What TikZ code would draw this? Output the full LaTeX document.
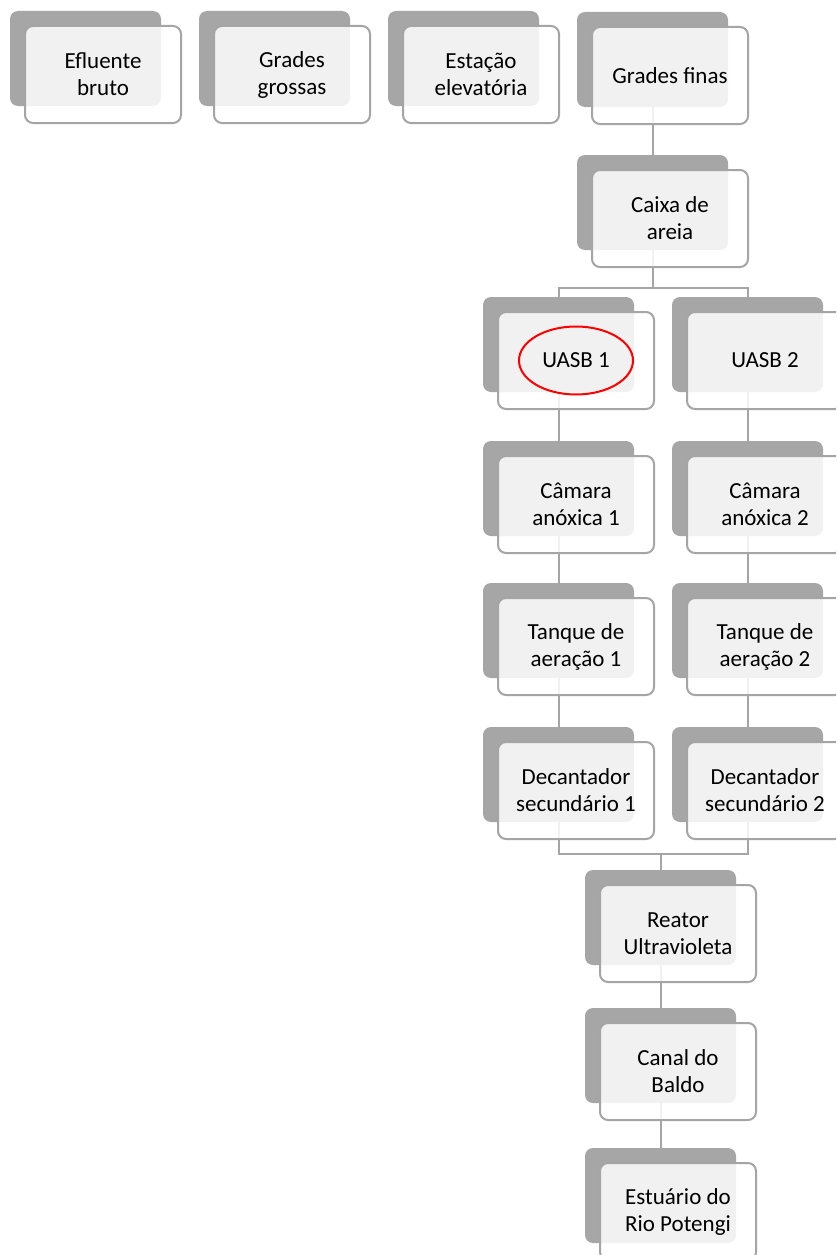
\documentclass[tikz,border=0pt]{standalone}
\usepackage{fontspec}
\setmainfont{Carlito}
\usetikzlibrary{shapes.geometric}
\definecolor{backgray}{HTML}{A6A6A6}
\definecolor{linegray}{HTML}{A5A5A5}
\begin{document}
\begin{tikzpicture}[x=1pt, y=-1pt,
  font=\fontsize{23}{27}\selectfont,
  back/.style={fill=backgray, rounded corners=8pt, anchor=north west,
    minimum width=151pt, minimum height=95pt, inner sep=0pt, outer sep=0pt},
  front/.style={draw=linegray, line width=2pt, fill=white, fill opacity=0.85,
    text opacity=1, rounded corners=8pt, anchor=north west, align=center,
    minimum width=156pt, minimum height=97pt, inner sep=0pt, outer sep=0pt},
  conn/.style={draw=linegray, line width=2pt}]
  %% page size of the reference
  \path[use as bounding box, fill=white] (0,0) rectangle (836,1255);
  \clip (0,0) rectangle (836,1255);
  %% dark back boxes
  % first row
  \node[back] (efl-b) at (10,11) {};
  \node[back] (ggr-b) at (199,11) {};
  \node[back] (est-b) at (388,11) {};
  \node[back] (gfi-b) at (577,12) {};
  % main line
  \node[back] (cai-b) at (577,155) {};
  \node[back] (ua1-b) at (483,297) {};
  \node[back] (ua2-b) at (672,297) {};
  \node[back] (cam1-b) at (483,441) {};
  \node[back] (cam2-b) at (672,441) {};
  \node[back] (tan1-b) at (483,583) {};
  \node[back] (tan2-b) at (672,583) {};
  \node[back] (dec1-b) at (483,727) {};
  \node[back] (dec2-b) at (672,727) {};
  \node[back] (rea-b) at (585,870) {};
  \node[back] (can-b) at (585,1008) {};
  \node[back] (rio-b) at (585,1148) {};
  %% connectors
  \draw[conn] (gfi-b.south) -- (cai-b.north);
  \draw[conn] (cai-b.south) -- ++(0,38) -| (ua1-b.north);
  \draw[conn] (cai-b.south) -- ++(0,38) -| (ua2-b.north);
  \draw[conn] (ua1-b.south) -- (cam1-b.north);
  \draw[conn] (ua2-b.south) -- (cam2-b.north);
  \draw[conn] (cam1-b.south) -- (tan1-b.north);
  \draw[conn] (cam2-b.south) -- (tan2-b.north);
  \draw[conn] (tan1-b.south) -- (dec1-b.north);
  \draw[conn] (tan2-b.south) -- (dec2-b.north);
  \draw[conn] (dec1-b.south) -- ++(0,32) -| (rea-b.north);
  \draw[conn] (dec2-b.south) -- ++(0,32) -| (rea-b.north);
  \draw[conn] (rea-b.south) -- (can-b.north);
  \draw[conn] (can-b.south) -- (rio-b.north);
  %% white front boxes with the texts
  % first row
  \node[front] (efl) at (25,26) {Efluente\\bruto};
  \node[front] (ggr) at (214,26) {Grades\\grossas};
  \node[front] (est) at (403,26) {Estação\\elevatória};
  \node[front] (gfi) at (592,27) {Grades finas};
  % main line
  \node[front] (cai) at (592,170) {Caixa de\\areia};
  \node[front] (ua1) at (498,312) {UASB 1};
  \node[front] (ua2) at (687,312) {UASB 2};
  \node[front] (cam1) at (498,456) {Câmara\\anóxica 1};
  \node[front] (cam2) at (687,456) {Câmara\\anóxica 2};
  \node[front] (tan1) at (498,598) {Tanque de\\aeração 1};
  \node[front] (tan2) at (687,598) {Tanque de\\aeração 2};
  \node[front] (dec1) at (498,742) {Decantador\\secundário 1};
  \node[front] (dec2) at (687,742) {Decantador\\secundário 2};
  \node[front] (rea) at (600,885) {Reator\\Ultravioleta};
  \node[front] (can) at (600,1023) {Canal do\\Baldo};
  \node[front] (rio) at (600,1163) {Estuário do\\Rio Potengi};
  %% red mark round UASB 1
  \node[ellipse, draw=red, line width=2pt, minimum width=114pt,
    minimum height=68pt] (ua1-ring) at (ua1.center) {};
\end{tikzpicture}
\end{document}
